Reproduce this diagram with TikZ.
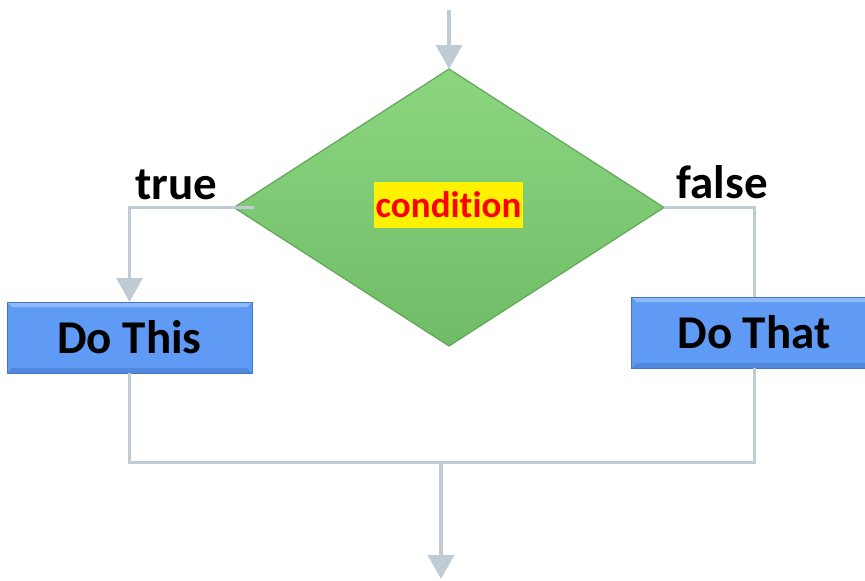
\documentclass[tikz,border=0pt]{standalone}
\usepackage{fontspec}
\setmainfont{Carlito}[Ligatures=NoCommon]
\usetikzlibrary{shapes.geometric, arrows.meta}
\definecolor{linkgray}{RGB}{191,204,214}
\definecolor{condtop}{RGB}{140,214,128}
\definecolor{condbot}{RGB}{112,188,102}
\definecolor{condedge}{RGB}{98,166,88}
\definecolor{boxblue}{RGB}{95,155,245}
\definecolor{boxedge}{RGB}{68,118,200}

\begin{document}
\begin{tikzpicture}[x=1pt,y=-1pt,
    decision/.style={diamond, draw=condedge, line width=1.2pt, top color=condtop, bottom color=condbot,
        minimum width=430pt, minimum height=277pt, inner sep=0pt, outer sep=0pt, aspect=1.55},
    process/.style={rectangle, draw=boxedge, line width=1pt, fill=boxblue, minimum width=245pt,
        minimum height=71pt, outer sep=0pt, font=\fontsize{47}{56}\selectfont\bfseries,
        path picture={
            \fill[white, opacity=0.3] (path picture bounding box.north west) -- (path picture bounding box.north east)
                -- ([xshift=-5pt, yshift=-5pt]path picture bounding box.north east)
                -- ([xshift=5pt, yshift=-5pt]path picture bounding box.north west) -- cycle;
            \fill[boxedge, opacity=0.5] (path picture bounding box.south west) -- (path picture bounding box.south east)
                -- ([xshift=-5pt, yshift=5pt]path picture bounding box.south east)
                -- ([xshift=5pt, yshift=5pt]path picture bounding box.south west) -- cycle;}},
    tag/.style={inner sep=0pt, anchor=base, font=\fontsize{47}{56}\selectfont\bfseries},
    link/.style={draw=linkgray, line width=3pt},
    tip/.style={-{Triangle[width=26pt,length=24pt]}},
    flow/.style={link, tip, line width=4pt}]
\clip (0,0) rectangle (865,581);
\node[decision] (cond) at (449,207.5) {};
\node[fill=yellow, text=red, inner xsep=1.5pt, inner ysep=0pt, minimum height=46pt,
    font=\fontsize{37}{44}\selectfont\bfseries] (condtext) at (448.5,205) {condition};
\node[process] (dothis) at (129.5,337.5) {Do This};
\node[process] (dothat) at (754,332.5) {Do That};
\node[tag] (truetag) at (176,199) {true};
\node[tag] (falsetag) at (722,198) {false};
\coordinate (entry) at (449,10);
\coordinate (merge) at (441,462);
\coordinate (exit) at (441,579);

\draw[flow] (entry) -- (cond.north);
\draw[link, tip] ([xshift=20pt]cond.west) -| (dothis.north);
\draw[link] (cond.east) -| (dothat.north);
\draw[link] (dothis.south) |- (merge) -| (dothat.south);
\draw[flow] (merge) -- (exit);
\end{tikzpicture}
\end{document}
